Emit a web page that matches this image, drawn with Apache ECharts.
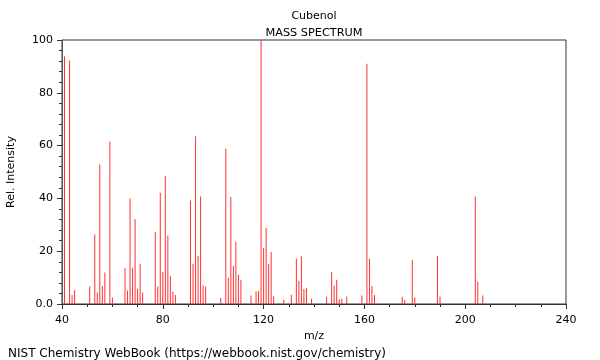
<!DOCTYPE html>
<html>
<head>
<meta charset="utf-8">
<script src="https://cdn.jsdelivr.net/npm/echarts@6/dist/echarts.min.js"></script>
<style>html,body{margin:0;padding:0;background:#fff}#c{width:600px;height:360px}</style>
</head>
<body>
<div id="c"></div>
<script>
const mzValues = [41,43,44,45,51,53,54,55,56,57,59,60,65,66,67,68,69,70,71,72,77,78,79,80,81,82,83,84,85,91,92,93,94,95,96,97,103,105,106,107,108,109,110,111,115,117,118,119,120,121,122,123,124,128,131,133,134,135,136,137,139,145,147,148,149,150,151,153,159,161,162,163,164,175,176,179,180,189,190,204,205,207];
const intensities = [93.8,92.2,3.4,5.3,6.6,26.3,4.4,52.8,6.8,11.9,61.6,2.5,13.5,5.1,40.0,13.7,32.2,5.8,15.2,4.4,27.3,6.6,42.1,12.1,48.5,25.9,10.5,4.6,3.4,39.2,15.2,63.5,18.2,40.7,7.0,6.6,2.3,58.8,9.9,40.5,14.5,23.6,11.1,9.1,3.2,4.7,4.9,100,21.2,28.8,15.2,19.7,2.9,1.6,3.5,17.2,8.8,18.1,5.7,6.2,2.0,2.8,12.1,7.0,9.2,1.8,2.0,2.8,3.2,91.0,17.1,6.8,3.4,2.7,1.5,16.7,2.5,18.2,2.8,40.7,8.5,3.2];
const chartTitle = 'Cubenol';
const chartSubtitle = 'MASS SPECTRUM';
const xAxisName = 'm/z';
const yAxisName = 'Rel. Intensity';
const footerText = 'NIST Chemistry WebBook (https://webbook.nist.gov/chemistry)';

const font = 'DejaVu Sans';
const chart = echarts.init(document.getElementById('c'), null, {renderer: 'canvas'});
chart.setOption({
  animation: false,
  backgroundColor: '#fff',
  textStyle: {fontFamily: font},
  title: [
    {text: chartTitle, left: 309, top: 6, textAlign: 'center', textStyle: {fontFamily: font, fontSize: 11, fontWeight: 'normal', color: '#000'}},
    {text: chartSubtitle, left: 309, top: 23, textAlign: 'center', textStyle: {fontFamily: font, fontSize: 11.3, fontWeight: 'normal', color: '#000'}},
    {text: footerText, left: 3, top: 343, textStyle: {fontFamily: font, fontSize: 12, fontWeight: 'normal', color: '#000'}}
  ],
  grid: {left: 62, right: 34, top: 40, bottom: 56, containLabel: false, outerBoundsMode: 'none', show: true, borderColor: '#333', borderWidth: 1, backgroundColor: 'transparent'},
  xAxis: {
    type: 'value', min: 40, max: 240, interval: 40,
    name: xAxisName, nameLocation: 'middle', nameGap: 23,
    nameTextStyle: {fontFamily: font, fontSize: 11, color: '#000'},
    axisLine: {show: true, onZero: false, lineStyle: {color: '#333', width: 1}},
    axisTick: {show: true, length: 5, lineStyle: {color: '#333'}},
    minorTick: {show: true, splitNumber: 4, length: 3, lineStyle: {color: '#333'}},
    axisLabel: {fontFamily: font, fontSize: 11, color: '#000', margin: 11},
    splitLine: {show: false}
  },
  yAxis: {
    type: 'value', min: 0, max: 100, interval: 20,
    name: yAxisName, nameLocation: 'middle', nameGap: 45,
    nameTextStyle: {fontFamily: font, fontSize: 11, color: '#000'},
    axisLine: {show: true, lineStyle: {color: '#555', width: 1}},
    axisTick: {show: true, length: 5, lineStyle: {color: '#333'}},
    minorTick: {show: true, splitNumber: 5, length: 3, lineStyle: {color: '#333'}},
    axisLabel: {fontFamily: font, fontSize: 11, color: '#000', margin: 9, formatter: v => v === 0 ? '0.0' : String(v)},
    splitLine: {show: false}
  },
  series: [{
    type: 'bar',
    barWidth: 1,
    itemStyle: {color: '#ff3030'},
    data: mzValues.map((m, i) => [m, intensities[i]])
  }]
});
</script>
</body>
</html>
